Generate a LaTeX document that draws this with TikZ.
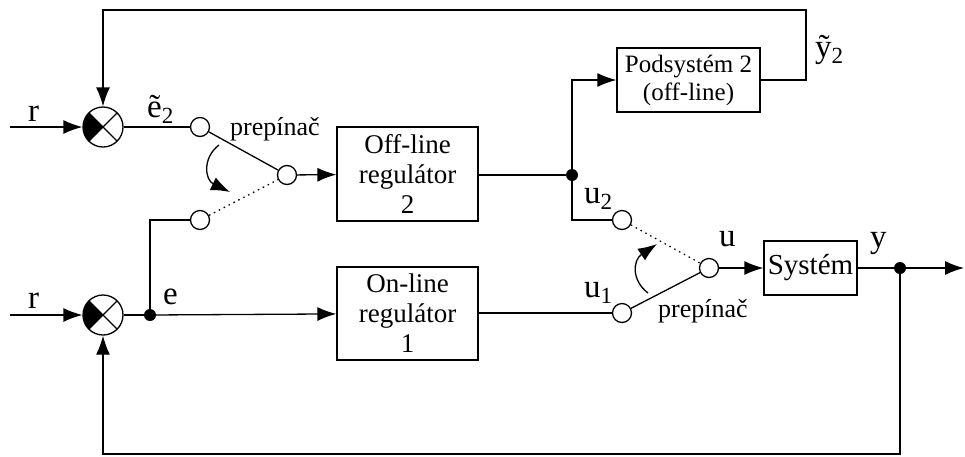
\documentclass[tikz,border=0pt]{standalone}
\usepackage{fontspec}
\setmainfont{Liberation Serif}
\usetikzlibrary{arrows.meta,positioning}

\tikzset{
  line/.style={line width=1.3pt},
  arr/.style={line, -{Latex[length=19pt,width=14pt]}},
  dots/.style={line, dash pattern=on 1.5pt off 4pt},
  block/.style={draw, line width=1.3pt, rectangle, align=center, inner sep=0pt,
                font=\fontsize{27}{30}\selectfont},
  summer/.style={draw, line width=1.3pt, circle, minimum size=40pt, inner sep=0pt,
                 path picture={
                   \fill (path picture bounding box.center) -- (path picture bounding box.north west)
                         -- (path picture bounding box.south west) -- cycle;
                   \draw[line width=1.3pt] (path picture bounding box.north west) -- (path picture bounding box.south east)
                         (path picture bounding box.north east) -- (path picture bounding box.south west);}},
  contact/.style={draw, line width=1.3pt, circle, fill=white, minimum size=19pt, inner sep=0pt},
  junct/.style={fill, circle, minimum size=12pt, inner sep=0pt},
  lbl/.style={anchor=base west, inner sep=0pt, font=\fontsize{33}{33}\selectfont},
  swlbl/.style={anchor=base west, inner sep=0pt, font=\fontsize{26}{30}\selectfont},
}

\begin{document}
\begin{tikzpicture}[x=1pt,y=-1pt]
  \useasboundingbox (0,0) rectangle (965,456);

  % blocks
  \node[block, minimum width=141pt, minimum height=94pt] (offreg) at (407.5,174) {Off-line\\regulátor\\2};
  \node[block, minimum width=141pt, minimum height=93pt] (onreg) at (407.5,313.5) {On-line\\regulátor\\1};
  \node[block, minimum width=143pt, minimum height=64pt, font=\fontsize{25}{28}\selectfont] (podsys) at (688.5,80) {Podsystém 2\\(off-line)};
  \node[block, minimum width=93pt, minimum height=54pt, font=\fontsize{29}{30}\selectfont] (sys) at (810.5,268) {Systém};

  % summing points
  \node[summer] (sum1) at (103,127) {};
  \node[summer] (sum2) at (103,315) {};

  % switch contacts
  \node[contact] (ca) at (200,127) {};
  \node[contact] (cb) at (287,175) {};
  \node[contact] (cc) at (200,220) {};
  \node[contact] (cd) at (622,220) {};
  \node[contact] (ce) at (622,313) {};
  \node[contact] (cf) at (709,268) {};

  % junctions
  \node[junct] (j1) at (150,315) {};
  \node[junct] (j2) at (572,175) {};
  \node[junct] (j3) at (900,268) {};

  \coordinate (in1) at (10,127);
  \coordinate (in2) at (10,315);
  \coordinate (out) at (964,268);
  \coordinate (top) at (806,10);
  \coordinate (bot) at (900,454);

  % inputs
  \draw[arr] (in1) -- (sum1);
  \draw[arr] (in2) -- (sum2);

  % upper switch
  \draw[line] (sum1) -- (ca);
  \draw[line] (ca) -- (cb);
  \draw[dots] (cc) -- (cb);
  \draw[arr] (cb) -- (offreg);
  \draw[line] (cc) -| (j1);

  % lower branch
  \draw[line] (sum2) -- (j1);
  \draw[arr] (j1) -- (onreg);

  % regulator outputs
  \draw[line] (j2 -| offreg.east) -- (j2);
  \draw[arr] (j2) |- (podsys);
  \draw[line] (j2) |- (cd);
  \draw[dots] (cd) -- (cf);
  \draw[line] (ce -| onreg.east) -- (ce);
  \draw[line] (ce) -- (cf);
  \draw[arr] (cf) -- (sys);
  \draw[line] (sys) -- (j3);
  \draw[arr] (j3) -- (out);

  % feedbacks
  \draw[arr] (podsys.east) -| (top) -| (sum1);
  \draw[arr] (j3) -- (bot) -| (sum2);

  % switching arrows
  \coordinate (sw1a) at (219,145);
  \coordinate (sw1b) at (230,192);
  \draw[arr] (sw1a) .. controls (202,158) and (205,180) .. (sw1b);
  \coordinate (sw2a) at (648,293);
  \coordinate (sw2b) at (657,244);
  \draw[arr] (sw2a) .. controls (631,280) and (633,260) .. (sw2b);

  % labels
  \node[lbl] (lr1) at (28,121) {r};
  \node[lbl] (lr2) at (28,308) {r};
  \node[lbl] (le2) at (147,117) {\~e\textsubscript{2}};
  \node[lbl] (le) at (163,304) {e};
  \node[lbl] (lu2) at (584,203) {u\textsubscript{2}};
  \node[lbl] (lu1) at (584,297) {u\textsubscript{1}};
  \node[lbl] (lu) at (719,246) {u};
  \node[lbl] (ly) at (870,247) {y};
  \node[lbl] (ly2) at (815,57) {\~y\textsubscript{2}};
  \node[swlbl] (sw1) at (230,135) {prepínač};
  \node[swlbl] (sw2) at (658,317) {prepínač};
\end{tikzpicture}
\end{document}
